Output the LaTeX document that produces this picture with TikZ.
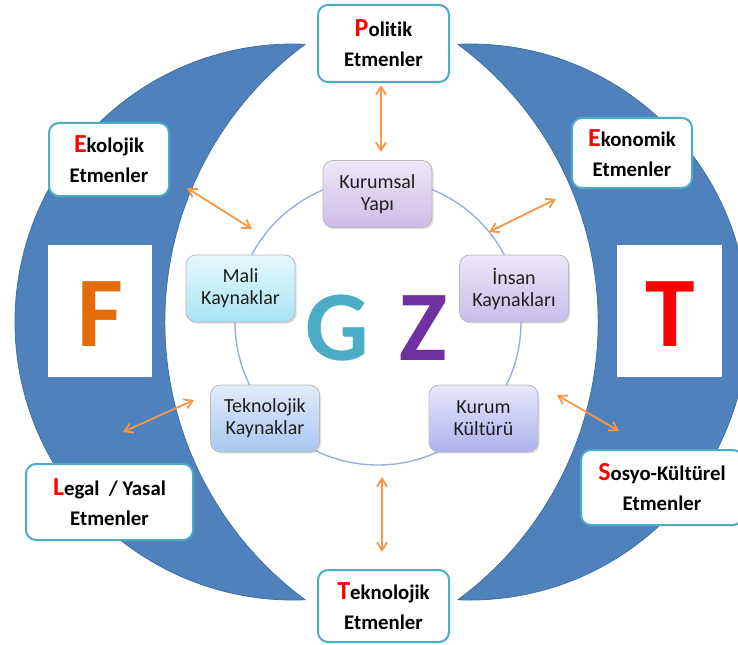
\documentclass[tikz,border=0pt]{standalone}
\usepackage{fontspec}
\setmainfont[Ligatures=NoCommon]{Carlito}
\usetikzlibrary{arrows.meta,shadows}

\definecolor{crescent}{HTML}{4F81BD}
\definecolor{crescentedge}{HTML}{41719C}
\definecolor{boxline}{HTML}{4BACC6}
\definecolor{arrowor}{HTML}{F79646}
\definecolor{ringline}{HTML}{9AAEDC}
\definecolor{gcol}{HTML}{4BACC6}
\definecolor{zcol}{HTML}{7030A0}
\definecolor{fcol}{HTML}{E36C09}
\definecolor{textdark}{HTML}{1F1F1F}
\definecolor{kurtop}{HTML}{EEE8F8}
\definecolor{kurbot}{HTML}{CDBCE6}
\definecolor{maltop}{HTML}{E6F8FC}
\definecolor{malbot}{HTML}{A9E4F4}
\definecolor{instop}{HTML}{ECE6F8}
\definecolor{insbot}{HTML}{C8BDEA}
\definecolor{tkktop}{HTML}{E0ECFB}
\definecolor{tkkbot}{HTML}{A8C7F0}
\definecolor{kkutop}{HTML}{E8E8FB}
\definecolor{kkubot}{HTML}{ADB1EE}

\newcommand{\redcap}[1]{{\color{red}\fontsize{13}{15}\selectfont #1}}

\begin{document}
\begin{tikzpicture}[x=0.5pt, y=0.5pt,
    factor/.style={rectangle, draw=boxline, line width=1pt, rounded corners=5pt, fill=white, align=center, inner sep=0pt, font=\fontsize{10.4}{15}\selectfont\bfseries},
    inbox/.style={rectangle, draw=gray!55, rounded corners=5pt, align=center, inner sep=0pt, minimum width=54.5pt, minimum height=33.5pt, text=textdark, font=\fontsize{10}{11}\selectfont, drop shadow={opacity=0.25, shadow xshift=0.8pt, shadow yshift=-0.8pt}},
    letter/.style={inner sep=0pt, anchor=base, font=\fontsize{50}{50}\selectfont\bfseries},
    link/.style={<->, >={Straight Barb[length=4pt,width=5pt]}, draw=arrowor, line width=0.9pt}]

    \useasboundingbox (0,0) rectangle (738,644);

    \filldraw[fill=crescent, draw=crescentedge, line width=0.4pt] (305.1,599.7) arc[start angle=87.5, end angle=272.5, radius=278] arc[start angle=233.6, end angle=126.4, radius=345] -- cycle;
    \filldraw[fill=crescent, draw=crescentedge, line width=0.4pt] (457.9,599.7) arc[start angle=92.5, end angle=-92.5, radius=278] arc[start angle=-53.6, end angle=53.6, radius=345] -- cycle;

    \node (fbox) [rectangle, fill=white, minimum width=52pt, minimum height=66pt, inner sep=0pt] at (100,333) {};
    \node (tbox) [rectangle, fill=white, minimum width=52.5pt, minimum height=66pt, inner sep=0pt] at (669.5,333) {};
    \node (fl) [letter, text=fcol] at (100,298) {F};
    \node (tl) [letter, text=red] at (670,298) {T};

    \node (ring) [circle, draw=ringline, line width=0.7pt, minimum size=143pt, inner sep=0pt] at (378,322) {};

    \node (pol) [factor, minimum width=65.5pt, minimum height=38.5pt] at (383.5,600.5) {\redcap{P}olitik\\Etmenler};
    \node (eko) [factor, minimum width=60pt, minimum height=36.5pt] at (109,484.5) {\redcap{E}kolojik\\Etmenler};
    \node (ekon) [factor, minimum width=60pt, minimum height=35pt] at (632,491) {\redcap{E}konomik\\Etmenler};
    \node (leg) [factor, minimum width=83.5pt, minimum height=38pt] at (109.5,142) {\redcap{L}egal\ \ / Yasal\\Etmenler};
    \node (sos) [factor, minimum width=81pt, minimum height=37.5pt] at (662,156.5) {\redcap{S}osyo-Kültürel\\Etmenler};
    \node (tek) [factor, minimum width=65.5pt, minimum height=36pt] at (383.5,38) {\redcap{T}eknolojik\\Etmenler};

    \node (kur) [inbox, top color=kurtop, bottom color=kurbot] at (377.5,450) {Kurumsal\\Yapı};
    \node (mal) [inbox, top color=maltop, bottom color=malbot] at (240.5,355.5) {Mali\\Kaynaklar};
    \node (ins) [inbox, top color=instop, bottom color=insbot] at (514,355.5) {İnsan\\Kaynakları};
    \node (tkk) [inbox, top color=tkktop, bottom color=tkkbot] at (265,225.5) {Teknolojik\\Kaynaklar};
    \node (kku) [inbox, top color=kkutop, bottom color=kkubot] at (483.5,225.5) {Kurum\\Kültürü};

    \node (gl) [letter, text=gcol] at (337.5,284) {G};
    \node (zl) [letter, text=zcol] at (423.5,284) {Z};

    \coordinate (polA) at (381,559);
    \coordinate (polB) at (381,492);
    \coordinate (ekoA) at (187,456);
    \coordinate (ekoB) at (252,415);
    \coordinate (ekonA) at (556,445);
    \coordinate (ekonB) at (489,412);
    \coordinate (legA) at (123,212);
    \coordinate (legB) at (194,244);
    \coordinate (sosA) at (619,213);
    \coordinate (sosB) at (557,249);
    \coordinate (tekA) at (382,92);
    \coordinate (tekB) at (382,167);

    \draw[link] (polA) -- (polB);
    \draw[link] (ekoA) -- (ekoB);
    \draw[link] (ekonA) -- (ekonB);
    \draw[link] (legA) -- (legB);
    \draw[link] (sosA) -- (sosB);
    \draw[link] (tekA) -- (tekB);
\end{tikzpicture}
\end{document}
